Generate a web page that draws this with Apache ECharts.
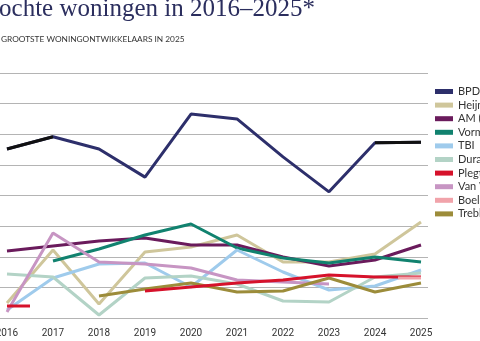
<!DOCTYPE html>
<html>
<head>
<meta charset="utf-8">
<script src="https://cdn.jsdelivr.net/npm/echarts@6/dist/echarts.min.js"></script>
<style>
  html, body { margin: 0; padding: 0; background: #fff; }
  #container { width: 480px; height: 341px; }
</style>
</head>
<body>
<div id="container"></div>
<script>
// jaren op de x-as
var years = [2016, 2017, 2018, 2019, 2020, 2021, 2022, 2023, 2024, 2025];

// aantallen per ontwikkelaar, null = geen waarde
var bpd        = [2760, 2960, 2760, 2300, 3330, 3250, 2630, 2060, 2860, 2870];
var heijmans   = [245, 1110, 229, 1078, 1159, 1355, 915, 915, 1045, 1568];
var am         = [1094, 1176, 1257, 1306, 1192, 1192, 996, 849, 947, 1192];
var vorm       = [null, 931, 1127, 1355, 1535, 1143, 980, 898, 996, 914];
var tbi        = [131, 653, 882, 898, 506, 1110, 751, 457, 522, 784];
var dura       = [718, 669, 49, 653, 686, 555, 278, 261, 669, 735];
var plegt      = [196, null, null, 441, 506, 571, 620, 702, 669, 669];
var vanWijnen  = [98, 1388, 914, 882, 816, 620, 588, 555, null, null];
var trebbe     = [null, null, 359, 473, 571, 424, 441, 653, 424, 571];

// losse stukjes lijn (half jaar) zoals in het origineel
var plegtStub = [[2016, 196], [2016.5, 196]];
var boeleStub = [[2024.5, 653], [2025, 653]];

var names = ['BPD', 'Heijmans', 'AM (BAM)', 'Vorm', 'TBI', 'Dura Vermeer', 'Plegt-Vos', 'Van Wijnen', 'BoelensdeGruyter', 'Trebbe'];
var colors = ['#2d2f6b', '#cfc69b', '#6a1b5c', '#11826f', '#9fcbec', '#b3d3c6', '#d6122b', '#c795c3', '#f1a3aa', '#9c8c3a'];

function pairs(arr) { // koppel jaren aan waarden
    var out = [];
    for (var i = 0; i < arr.length; i++) {
        out.push([years[i], arr[i]]);
    }
    return out;
}

function lineSeries(name, data, color, z) {
    return {
        name: name,
        type: 'line',
        data: data,
        color: color,
        showSymbol: false,
        symbol: 'none',
        connectNulls: false,
        lineStyle: { width: 3, color: color },
        z: z || 2,
        animation: false
    };
}

var myChart = echarts.init(document.getElementById('container'));

var series = [
    lineSeries(names[1], pairs(heijmans), colors[1]),
    lineSeries(names[2], pairs(am), colors[2]),
    lineSeries(names[3], pairs(vorm), colors[3]),
    lineSeries(names[4], pairs(tbi), colors[4]),
    lineSeries(names[5], pairs(dura), colors[5]),
    lineSeries(names[7], pairs(vanWijnen), colors[7]),
    lineSeries(names[6], pairs(plegt).slice(3), colors[6], 3), // doorlopende reeks vanaf 2019
    lineSeries(names[8], boeleStub, colors[8], 4),
    lineSeries(names[9], pairs(trebbe), colors[9]),
    lineSeries(names[0], pairs(bpd), colors[0], 5),
    // eerste en laatste stuk van BPD is zwart in het origineel
    lineSeries('BPD-begin', pairs(bpd).slice(0, 2), '#111111', 6),
    lineSeries('BPD-eind', pairs(bpd).slice(8, 10), '#111111', 6),
    lineSeries('Plegt-begin', plegtStub, colors[6], 3)
];

myChart.setOption({
    title: [
        {
            text: 'Aantal verkochte woningen in 2016–2025*',
            right: 165,
            top: -3,
            padding: 0,
            textStyle: { fontFamily: 'Liberation Serif', fontSize: 25, fontWeight: 'normal', color: '#2b2e5e' }
        },
        {
            text: 'GROOTSTE WONINGONTWIKKELAARS IN 2025',
            left: 1,
            top: 35,
            padding: 0,
            textStyle: { fontFamily: 'Lato', fontSize: 8.3, fontWeight: 'normal', color: '#333' }
        }
    ],
    legend: {
        data: names.map(function (n, i) { return { name: n, itemStyle: { color: colors[i] } }; }),
        orient: 'vertical',
        left: 435,
        top: 85,
        padding: 0,
        itemWidth: 18,
        itemHeight: 5,
        itemGap: 0.6,
        icon: 'rect',
        selectedMode: false,
        textStyle: { fontFamily: 'Lato', fontSize: 11, lineHeight: 13, color: '#333' }
    },
    grid: { left: 0, right: 52, top: 73, bottom: 23, outerBoundsMode: 'none', containLabel: false },
    xAxis: {
        type: 'value',
        min: 2015.848,
        max: 2025.152,
        splitNumber: 10,
        minInterval: 1,
        axisLine: { show: false },
        axisTick: { show: false },
        splitLine: { show: false },
        axisLabel: {
            margin: 10,
            fontFamily: 'Roboto',
            fontSize: 10,
            color: '#333',
            showMinLabel: false,
            showMaxLabel: false,
            hideOverlap: false,
            formatter: function (v) { return Math.abs(v - Math.round(v)) < 1e-6 ? String(Math.round(v)) : ''; }
        }
    },
    yAxis: {
        type: 'value',
        min: 0,
        max: 4000,
        interval: 500,
        axisLine: { show: false },
        axisTick: { show: false },
        axisLabel: { show: false },
        splitLine: { show: true, lineStyle: { color: '#b4b4b4', width: 1.2 } }
    },
    series: series
});
</script>
</body>
</html>
